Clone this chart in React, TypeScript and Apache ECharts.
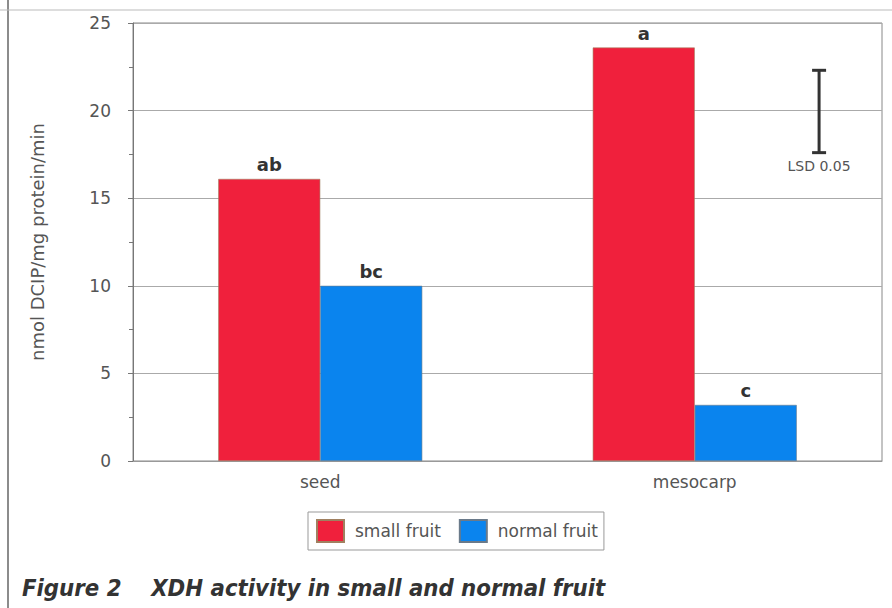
import React, { useEffect, useRef } from "react";
import * as echarts from "echarts";

const categories = ["seed", "mesocarp"];
const smallFruit = [16.1, 23.6];
const normalFruit = [10.0, 3.2];
const smallLetters = ["ab", "a"];
const normalLetters = ["bc", "c"];
const lsdRange = [17.6, 22.3];
const lsdLabel = "LSD 0.05";
const yTicks = { min: 0, max: 25, interval: 5 };
const yName = "nmol DCIP/mg protein/min";
const caption = "Figure 2    XDH activity in small and normal fruit";

const FONT = "'DejaVu Sans', 'Noto Sans', sans-serif";

export default function App() {
  const ref = useRef<HTMLDivElement>(null);
  useEffect(() => {
    if (!ref.current) return;
    const chart = echarts.init(ref.current, null, { renderer: "svg" });
    const barLabel = (letters: string[]) => ({
      show: true,
      position: "top",
      distance: 5,
      color: "#333",
      fontSize: 18,
      fontWeight: "bold",
      fontFamily: FONT,
      formatter: (p: any) => letters[p.dataIndex],
    });
    chart.setOption({
      animation: false,
      backgroundColor: "#fff",
      grid: {
        left: 133,
        right: 10,
        top: 23,
        bottom: 147,
        show: true,
        borderColor: "#888",
        borderWidth: 1,
      },
      legend: {
        left: 308,
        top: 512,
        data: ["small fruit", "normal fruit"],
        itemWidth: 27,
        itemHeight: 22,
        itemGap: 18,
        padding: [7, 6, 7, 8],
        borderColor: "#999",
        borderWidth: 1,
        icon: "rect",
        textStyle: {
          fontSize: 17,
          color: "#555",
          fontFamily: FONT,
          padding: [0, 0, 0, 6],
        },
      },
      xAxis: {
        type: "category",
        data: categories,
        axisLine: { lineStyle: { color: "#999" } },
        axisTick: { show: false },
        axisLabel: {
          color: "#555",
          fontSize: 17,
          fontFamily: FONT,
          margin: 12,
        },
      },
      yAxis: {
        type: "value",
        min: yTicks.min,
        max: yTicks.max,
        interval: yTicks.interval,
        name: yName,
        nameLocation: "middle",
        nameGap: 87,
        nameTextStyle: { color: "#555", fontSize: 18, fontFamily: FONT },
        axisLine: { show: true, lineStyle: { color: "#777" } },
        axisTick: { show: true, length: 5, lineStyle: { color: "#777" } },
        minorTick: { show: true, splitNumber: 2, length: 4, lineStyle: { color: "#777" } },
        axisLabel: { color: "#555", fontSize: 17, fontFamily: FONT, margin: 22 },
        splitLine: { show: true, lineStyle: { color: "#aaa" } },
      },
      series: [
        {
          name: "small fruit",
          type: "bar",
          data: smallFruit,
          barWidth: 102,
          barGap: "0%",
          itemStyle: { color: "#f0203c", borderColor: "#a08060", borderWidth: 0.6 },
          label: barLabel(smallLetters),
        },
        {
          name: "normal fruit",
          type: "bar",
          data: normalFruit,
          barWidth: 102,
          barGap: "0%",
          itemStyle: { color: "#0a84ee", borderColor: "#6a7a8a", borderWidth: 0.6 },
          label: barLabel(normalLetters),
        },
        {
          type: "custom",
          name: "lsd",
          data: [[1, lsdRange[0], lsdRange[1]]],
          z: 5,
          renderItem: (params: any, api: any) => {
            const idx = api.value(0);
            const lo = api.coord([idx, api.value(1)]);
            const hi = api.coord([idx, api.value(2)]);
            const w = api.size([1, 0])[0];
            const x = lo[0] + w * 0.332;
            const cap = 7;
            const style = { stroke: "#333", lineWidth: 3 };
            return {
              type: "group",
              children: [
                { type: "line", shape: { x1: x, y1: hi[1], x2: x, y2: lo[1] }, style },
                { type: "line", shape: { x1: x - cap, y1: hi[1], x2: x + cap, y2: hi[1] }, style },
                { type: "line", shape: { x1: x - cap, y1: lo[1], x2: x + cap, y2: lo[1] }, style },
                {
                  type: "text",
                  style: {
                    x: x,
                    y: lo[1] + 6,
                    text: lsdLabel,
                    fill: "#555",
                    fontSize: 14,
                    fontFamily: FONT,
                    align: "center",
                    verticalAlign: "top",
                  },
                },
              ],
            };
          },
        },
      ],
      graphic: [
        { type: "line", shape: { x1: 8, y1: 0, x2: 8, y2: 608 }, style: { stroke: "#666", lineWidth: 1.5 } },
        { type: "line", shape: { x1: 0, y1: 10, x2: 892, y2: 10 }, style: { stroke: "#bbb", lineWidth: 1 } },
        {
          type: "text",
          left: 22,
          top: 576,
          style: {
            text: caption,
            fill: "#333",
            fontSize: 23.7,
            fontWeight: "bold",
            fontStyle: "italic",
            fontFamily: "'Liberation Sans Narrow', 'DejaVu Sans Condensed', sans-serif",
          },
        },
      ],
    });
    return () => chart.dispose();
  }, []);
  return <div ref={ref} style={{ position: "fixed", left: 0, top: 0, width: 892, height: 608 }} />;
}
